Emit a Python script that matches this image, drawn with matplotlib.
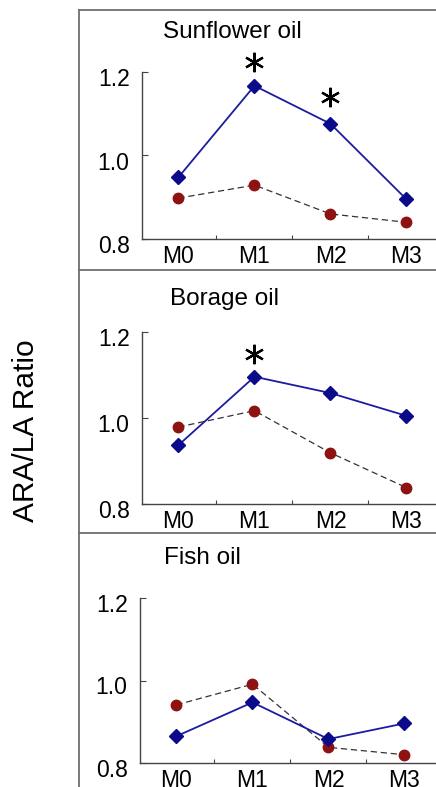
import numpy as np
import matplotlib
matplotlib.use('Agg')
import matplotlib.pyplot as plt
from matplotlib.lines import Line2D
from matplotlib.transforms import ScaledTranslation

plt.rcParams['font.family'] = ['Liberation Sans', 'DejaVu Sans']

months = ['M0', 'M1', 'M2', 'M3']
titles = ['Sunflower oil', 'Borage oil', 'Fish oil']

# blue diamonds (solid) and red circles (dashed)
blue_vals = [
    [0.948, 1.167, 1.076, 0.895],
    [0.937, 1.096, 1.058, 1.005],
    [0.865, 0.947, 0.858, 0.896],
]
red_vals = [
    [0.898, 0.929, 0.860, 0.840],
    [0.979, 1.017, 0.919, 0.838],
    [0.941, 0.991, 0.838, 0.820],
]
# significance stars: (month index, star height)
stars = [
    [(1, 1.224), (2, 1.141)],
    [(1, 1.150)],
    [],
]
yticks = [0.8, 1.0, 1.2]
ylabel = 'ARA/LA Ratio'

W, H = 436, 787
fig = plt.figure(figsize=(W / 100, H / 100), dpi=100)

# pixel boxes for each axes: (left, top, bottom)
ax_px = [(142, 72, 239), (142, 332, 504), (140, 598, 763)]
title_px = [(163, 38), (170, 305), (164, 564)]
unit = 76.0

for i in range(3):
    l, t, b = ax_px[i]
    width = 4.08 * unit
    ax = fig.add_axes([l / W, (H - b) / H, width / W, (b - t) / H])
    x = np.arange(len(months))
    ax.plot(x, red_vals[i], color='#333333', lw=0.9, ls=(0, (5, 3)),
            marker='o', ms=7.5, mfc='#8e1212', mec='#8e1212', zorder=2)
    ax.plot(x, blue_vals[i], color='#1c1ca0', lw=1.3,
            marker='D', ms=7, mfc='#0a0a8a', mec='#0a0a8a', zorder=3)
    for (k, yv) in stars[i]:
        ax.plot(k, yv, marker=(6, 2, 0), ms=14, mew=1.6, color='black',
                clip_on=False, zorder=4)
    ax.set_xlim(-0.48, 3.6)
    ax.set_ylim(0.8, 1.2)
    ax.set_xticks(x)
    ax.set_xticklabels(months)
    ax.set_xticks([0.5, 1.5, 2.5], minor=True)
    ax.set_yticks(yticks)
    ax.set_yticklabels(['%.1f' % v for v in yticks])
    ax.tick_params(axis='x', which='major', length=0, pad=4, labelsize=16.5)
    ax.tick_params(axis='x', which='minor', direction='in', length=3,
                   width=0.8, color='#444444')
    ax.tick_params(axis='y', direction='in', length=4, width=0.8,
                   color='#444444', pad=9, labelsize=16.5)
    shift = ScaledTranslation(0, -5 / 100, fig.dpi_scale_trans)
    for lab in ax.get_yticklabels():
        lab.set_transform(lab.get_transform() + shift)
    for s in ['top', 'right']:
        ax.spines[s].set_visible(False)
    for s in ['left', 'bottom']:
        ax.spines[s].set_color('#444444')
        ax.spines[s].set_linewidth(1.0)
    ax.patch.set_alpha(0)
    tx, ty = title_px[i]
    fig.text(tx / W, (H - ty) / H, titles[i], fontsize=17.5, va='baseline',
             ha='left')

# panel frame lines
frame_col = '#6e6e6e'
fig.add_artist(Line2D([79 / W, 79 / W], [(H - 10) / H, 0], color=frame_col,
                      lw=1.3, transform=fig.transFigure))
for yy in [10, 270, 533]:
    fig.add_artist(Line2D([79 / W, 1], [(H - yy) / H, (H - yy) / H],
                          color=frame_col, lw=1.3, transform=fig.transFigure))

fig.text(26 / W, (H - 431) / H, ylabel, rotation=90, fontsize=21.5,
         ha='center', va='center')

plt.savefig('out.png', dpi=100)
